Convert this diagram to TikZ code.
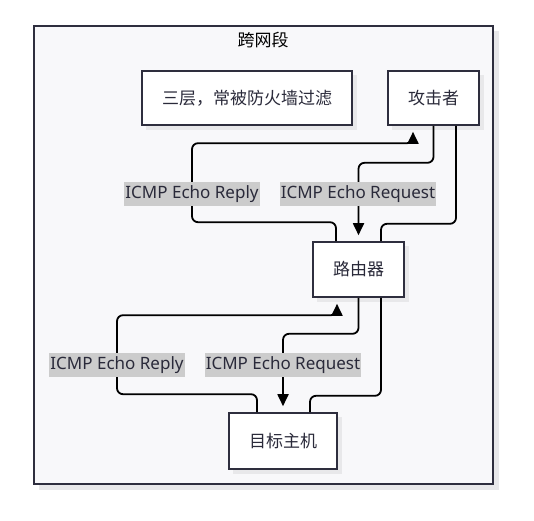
\documentclass[tikz,border=0pt]{standalone}
\usepackage{fontspec}
\setmainfont{Noto Sans CJK SC}
\newfontfamily\latinlbl{Noto Sans}
\usetikzlibrary{arrows.meta}
\definecolor{bordc}{HTML}{2E2E3E}
\definecolor{bgc}{HTML}{F8F8FA}
\definecolor{shc}{HTML}{E8E8EA}
\definecolor{lblc}{HTML}{CCCCCC}
\definecolor{txtc}{HTML}{2A2A3A}
\tikzset{
  box/.style={draw=bordc, line width=1.6pt, fill=white, minimum width=#1, minimum height=54pt, inner sep=0pt, font=\fontsize{17}{19}\selectfont, text=txtc},
  shadowrect/.style={fill=shc, draw=none},
  conn/.style={line width=1.8pt, black, rounded corners=6pt},
  arr/.style={-{Triangle[width=11pt,length=12pt]}, shorten >=6pt},
  lbl/.style={fill=lblc, inner xsep=1pt, inner ysep=0pt, minimum height=24pt, font=\latinlbl\fontsize{17}{19}\selectfont, text=txtc}
}
\begin{document}
\begin{tikzpicture}[x=1pt,y=-1pt]
\useasboundingbox (0,0) rectangle (534,520);
% outer frame
\fill[shc] (39,31) rectangle (499,490);
\node[draw=bordc, line width=1.6pt, fill=bgc, minimum width=459pt, minimum height=458pt, inner sep=0pt] (frame) at (263.5,255) {};
\node[font=\fontsize{17}{19}\selectfont, text=black] (title) at (263,40) {跨网段};
% shadows
\fill[shc] (146,75) rectangle (357,130);
\fill[shc] (392,75) rectangle (484,130);
\fill[shc] (317,246) rectangle (409,302);
\fill[shc] (233,417) rectangle (342,474);
% boxes
\node[box=210pt] (note) at (247,98) {三层，常被防火墙过滤};
\node[box=91pt] (att) at (433.5,98) {攻击者};
\node[box=91pt, minimum height=55pt] (rt) at (358.5,269.5) {路由器};
\node[box=108pt, minimum height=56pt] (tg) at (283,441) {目标主机};
% top connectors
\draw[conn,arr] (att.south) -- ++(0,37) -| (rt.north);
\draw[conn] ([xshift=22.5pt]att.south) -- ++(0,98) -| ([xshift=22.5pt]rt.north);
\draw[conn,arr] ([xshift=-22.5pt]rt.north) -- ++(0,-19) -- ++(-144,0) -- ++(0,-79) -| ([xshift=-20.5pt]att.south);
% bottom connectors
\draw[conn,arr] (rt.south) -- ++(0,36) -| (tg.north);
\draw[conn] ([xshift=22.5pt]rt.south) -- ++(0,98) -| ([xshift=27pt]tg.north);
\draw[conn,arr] ([xshift=-26pt]tg.north) -- ++(0,-18) -- ++(-140,0) -- ++(0,-79) -| ([xshift=-21.5pt]rt.south);
% labels
\node[lbl] (l1) at (192,194) {ICMP Echo Reply};
\node[lbl] (l2) at (358,194) {ICMP Echo Request};
\node[lbl] (l3) at (117,365) {ICMP Echo Reply};
\node[lbl] (l4) at (283,365) {ICMP Echo Request};
\end{tikzpicture}
\end{document}
